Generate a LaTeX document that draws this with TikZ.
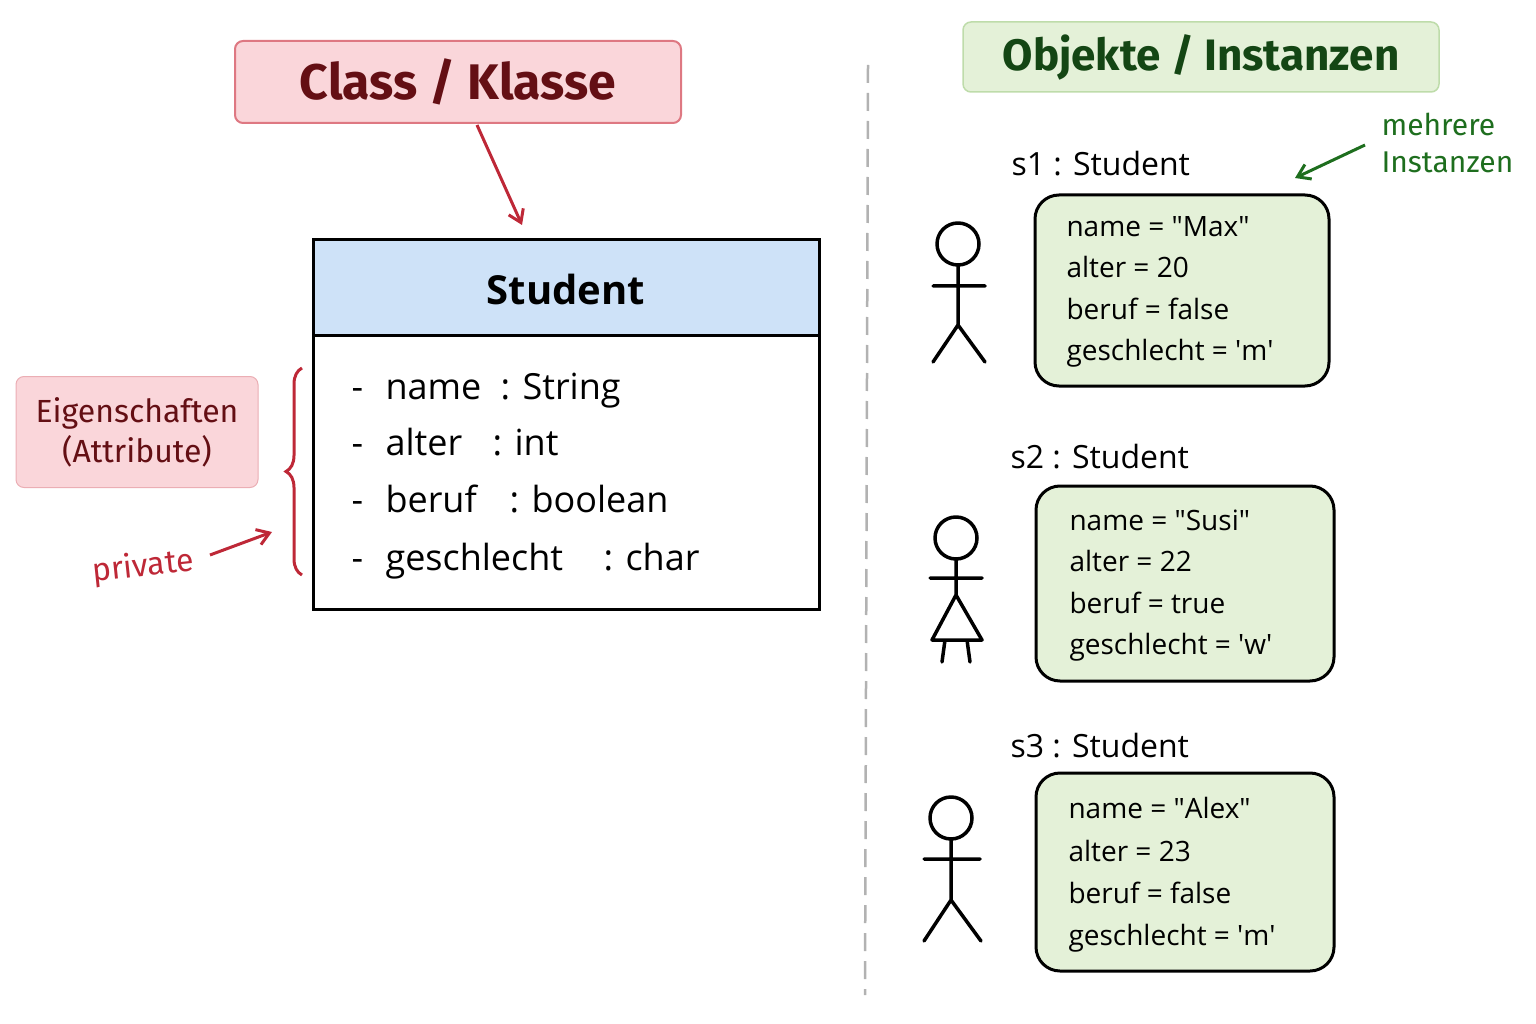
\documentclass[tikz,border=0pt]{standalone}
\usepackage{fontspec}
\setmainfont{Open Sans}
\newfontfamily\plainfont{Open Sans}
\newfontfamily\titlefont{Fira Sans}
\usetikzlibrary{decorations.pathreplacing,arrows.meta}
\definecolor{redfill}{RGB}{250,214,218}
\definecolor{redline}{RGB}{222,120,130}
\definecolor{darkred}{RGB}{100,15,20}
\definecolor{myred}{RGB}{190,40,55}
\definecolor{bluefill}{RGB}{206,226,248}
\definecolor{greenfill}{RGB}{228,241,216}
\definecolor{greenline}{RGB}{190,220,170}
\definecolor{darkgreen}{RGB}{20,70,20}
\definecolor{mygreen}{RGB}{30,110,30}
\newcommand{\dq}{{\plainfont\symbol{34}}}
\newcommand{\sq}{{\plainfont\symbol{39}}}
\tikzset{
  fs/.style={font=\fontsize{#1}{#1}\selectfont},
  attr/.style={anchor=base west,fs=36},
  inst/.style={anchor=base west,fs=28,align=left},
  ibox/.style={draw=black,line width=3pt,fill=greenfill,rounded corners=24pt},
  stick/.style={line width=3.5pt,line cap=round,line join=round},
  lbl/.style={anchor=base west,fs=32},
  arr/.style={line width=3pt,-{Straight Barb[length=12pt,width=16pt]}},
}
\begin{document}
\begin{tikzpicture}[x=1pt,y=-1pt]
\useasboundingbox (0,0) rectangle (1536,1024);
% class title
\node[draw=redline,line width=2pt,fill=redfill,rounded corners=8pt,minimum width=446pt,minimum height=82pt,text=darkred,font=\titlefont\fontsize{50}{50}\selectfont\bfseries] (ct) at (458,82) {Class / Klasse};
\coordinate (ca) at (522,225);
\draw[myred,arr] (477,125) -- (ca);
% class box
\fill[bluefill] (313,240) rectangle (819,335);
\draw[line width=3pt] (313,240) rectangle (819,609);
\draw[line width=3pt] (313,335) -- (819,335);
\node[font=\fontsize{40}{40}\selectfont\bfseries] (cn) at (566,289) {Student};
\foreach \y/\n/\cx/\t [count=\i] in {399/name/497/String,455/alter/489/int,512/beruf/506/boolean,570/geschlecht/600/char}{
  \node[attr] (d\i) at (348,\y) {-};
  \node[attr] (n\i) at (382,\y) {\n};
  \node[attr] (c\i) at (\cx,\y) {:};
  \node[attr] (t\i) at (\cx+22,\y) {\t};
}
% brace
\draw[myred,line width=3pt,decorate,decoration={brace,amplitude=16pt}] (302,575) -- (302,368);
\node[draw=redline!60,line width=1pt,fill=redfill,rounded corners=8pt,minimum width=242pt,minimum height=111pt,text=darkred,align=center,font=\titlefont\fontsize{32}{40}\selectfont] (eg) at (137,432) {Eigenschaften\\(Attribute)};
\node[text=myred,rotate=6,font=\titlefont\fontsize{32}{32}\selectfont] (pv) at (143,567) {private};
\coordinate (pa) at (272,532);
\draw[myred,arr] (210,555) -- (pa);
% divider
\draw[gray!60,line width=2.5pt,dash pattern=on 18pt off 10pt] (868,65) -- (865,995);
% objects title
\node[draw=greenline,line width=1.5pt,fill=greenfill,rounded corners=8pt,minimum width=476pt,minimum height=70pt,text=darkgreen,font=\titlefont\fontsize{44}{44}\selectfont\bfseries] (ot) at (1201,57) {Objekte / Instanzen};
\node[anchor=north west,text=mygreen,align=left,font=\titlefont\fontsize{30}{37}\selectfont] (mi) at (1378,110) {mehrere\\Instanzen};
\coordinate (ma) at (1295,178);
\draw[mygreen,arr] (1365,145) -- (ma);
% instances
\node[lbl] (l1) at (1008,176) {s1 : Student};
\draw[ibox] (1035,195) rectangle (1329,386);
\node[inst] (i1) at (1063,237) {name = \dq Max\dq};
\node[inst] at (1063,278) {alter = 20};
\node[inst] at (1063,319) {beruf = false};
\node[inst] at (1063,360) {geschlecht = \sq m\sq};
\node[lbl] (l2) at (1007,468) {s2 : Student};
\draw[ibox] (1036,486) rectangle (1334,681);
\node[inst] (i2) at (1066,530) {name = \dq Susi\dq};
\node[inst] at (1066,571) {alter = 22};
\node[inst] at (1066,613) {beruf = true};
\node[inst] at (1066,654) {geschlecht = \sq w\sq};
\node[lbl] (l3) at (1007,757) {s3 : Student};
\draw[ibox] (1036,773) rectangle (1334,971);
\node[inst] (i3) at (1065,818) {name = \dq Alex\dq};
\node[inst] at (1065,861) {alter = 23};
\node[inst] at (1065,903) {beruf = false};
\node[inst] at (1065,945) {geschlecht = \sq m\sq};
% stick figures
\draw[stick] (958,244) circle (21);
\draw[stick] (958,265) -- (958,325) (933,286) -- (985,286) (933,362) -- (958,325) -- (985,362);
\draw[stick] (956,538) circle (21);
\draw[stick] (956,559) -- (956,595) (930,578) -- (982,578) (956,595) -- (932,640) -- (982,640) -- cycle (945,640) -- (942,662) (967,640) -- (970,662);
\draw[stick] (951,818) circle (21);
\draw[stick] (951,839) -- (951,900) (924,859) -- (980,859) (924,941) -- (951,900) -- (981,941);
\end{tikzpicture}
\end{document}
